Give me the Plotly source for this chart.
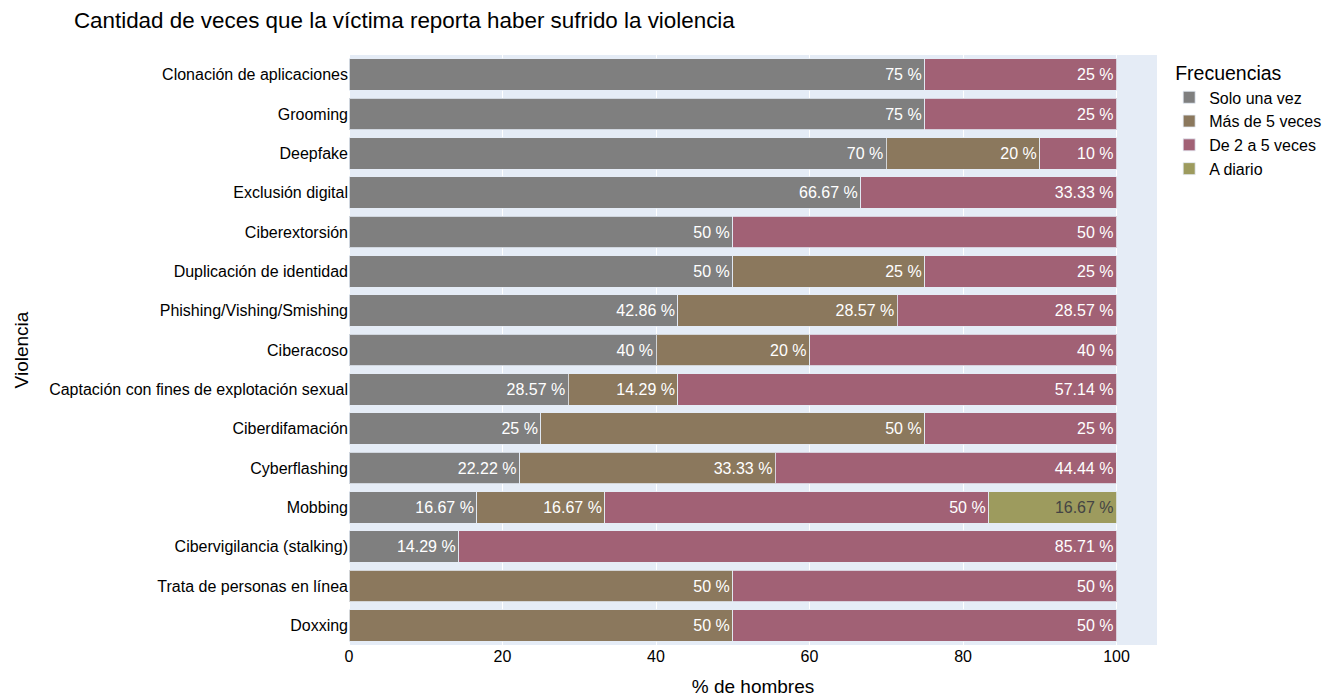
import plotly.graph_objects as go

categories = [
    "Doxxing",
    "Trata de personas en línea",
    "Cibervigilancia (stalking)",
    "Mobbing",
    "Cyberflashing",
    "Ciberdifamación",
    "Captación con fines de explotación sexual",
    "Ciberacoso",
    "Phishing/Vishing/Smishing",
    "Duplicación de identidad",
    "Ciberextorsión",
    "Exclusión digital",
    "Deepfake",
    "Grooming",
    "Clonación de aplicaciones",
]

solo_una_vez = [None, None, 14.29, 16.67, 22.22, 25, 28.57, 40, 42.86, 50, 50, 66.67, 70, 75, 75]
mas_de_5 = [50, 50, None, 16.67, 33.33, 50, 14.29, 20, 28.57, 25, None, None, 20, None, None]
de_2_a_5 = [50, 50, 85.71, 50, 44.44, 25, 57.14, 40, 28.57, 25, 50, 33.33, 10, 25, 25]
a_diario = [None, None, None, 16.67, None, None, None, None, None, None, None, None, None, None, None]

series = [
    ("Solo una vez", solo_una_vez, "rgb(127,127,127)"),
    ("Más de 5 veces", mas_de_5, "rgb(139,120,93)"),
    ("De 2 a 5 veces", de_2_a_5, "rgb(161,97,117)"),
    ("A diario", a_diario, "rgb(157,155,94)"),
]

W, H = 1318, 690
FONT = "Arial, Liberation Sans, sans-serif"

fig = go.Figure()
for name, vals, color in series:
    fig.add_trace(go.Bar(
        y=categories, x=vals, name=name, orientation="h",
        marker=dict(color=color, line=dict(color="rgba(229,236,246,0.8)", width=1)),
        texttemplate="%{x} %", textposition="inside", insidetextanchor="end",
    ))

fig.update_layout(
    barmode="stack",
    width=W, height=H,
    template="plotly",
    font=dict(family=FONT, size=16, color="black"),
    title=dict(text="Cantidad de veces que la víctima reporta haber sufrido la violencia",
               x=0.05, xanchor="left", y=1 - 12 / H, yanchor="middle",
               font=dict(family=FONT, size=22.4, color="black")),
    margin=dict(l=341, r=169, t=47, b=H - 637, autoexpand=False),
    legend=dict(title=dict(text="Frecuencias", font=dict(family=FONT, size=19.5, color="black")),
                traceorder="normal", indentation=-4),
    xaxis=dict(title=dict(text="% de hombres"), showgrid=True),
    yaxis=dict(title=dict(text="Violencia"), categoryorder="array", categoryarray=categories),
)

fig.write_html("out.html")
